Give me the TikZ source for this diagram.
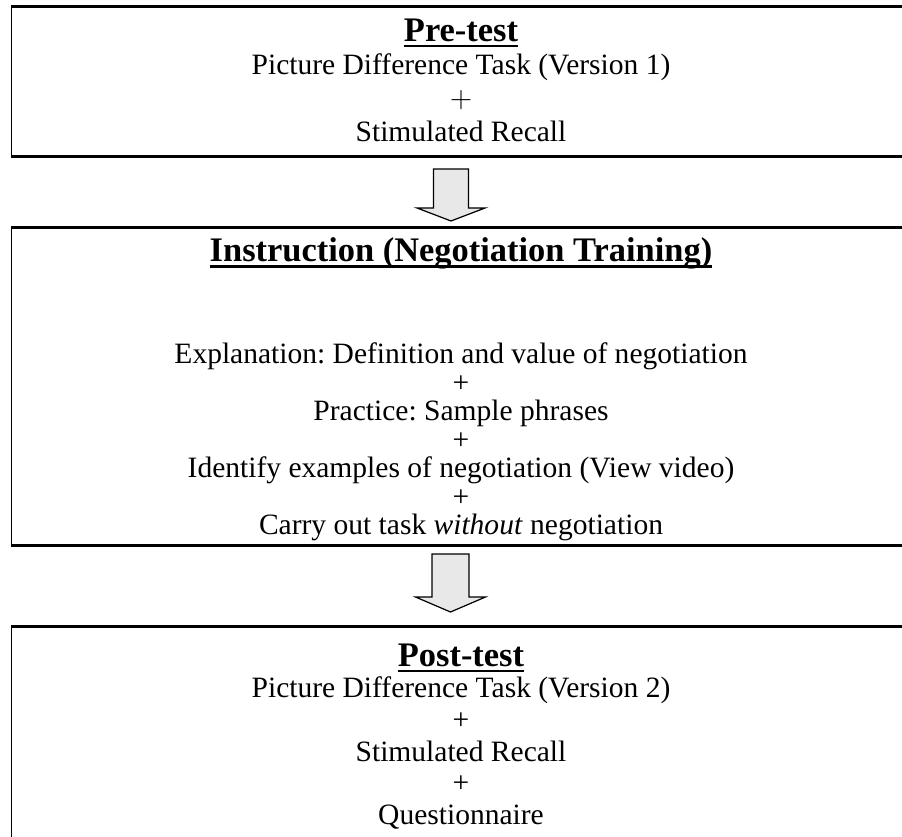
\documentclass[tikz,border=0pt]{standalone}
\usepackage{fontspec}
\setmainfont{Liberation Serif}
\frenchspacing

% underlined bold heading
\newcommand{\hdul}[1]{\setbox0\hbox{#1}\rlap{\rule[-2.6pt]{\wd0}{1.1pt}}\box0}
\newcommand{\heading}[1]{{\fontsize{14}{16}\selectfont\bfseries\hdul{#1}}}

\tikzset{
  boxtext/.style={align=center, inner sep=0pt, anchor=north},
  hline/.style={line width=1pt},
  vline/.style={line width=0.5pt},
  blockarrow/.style={draw=black, fill=black!9, line width=0.5pt, line join=miter}
}

\begin{document}
\begin{tikzpicture}[x=0.4065pt, y=-0.4065pt]
  \useasboundingbox (0,0) rectangle (902,837);

  % --- Boxes (open on the right) ---
  \draw[hline] (11.7,6.7) -- (902,6.7);
  \draw[hline] (11.7,156.7) -- (902,156.7);
  \draw[vline] (11.7,5.5) -- (11.7,157.9);

  \draw[hline] (11.7,227.5) -- (902,227.5);
  \draw[hline] (11.7,545.7) -- (902,545.7);
  \draw[vline] (11.7,226.3) -- (11.7,546.9);

  \draw[hline] (11.7,626.7) -- (902,626.7);
  \draw[vline] (11.7,625.5) -- (11.7,837);

  % --- Box texts ---
  \node[boxtext, font=\fontsize{12}{13.6}\selectfont] (pre) at (461,18)
    {\heading{Pre-test}\\
     Picture Difference Task (Version 1)\\
     $+$\\
     Stimulated Recall};

  \node[boxtext, font=\fontsize{12}{11.6}\selectfont] (instr) at (461,237)
    {\heading{Instruction (Negotiation Training)}\\[29.9pt]
     Explanation: Definition and value of negotiation\\
     +\\
     Practice: Sample phrases\\
     +\\
     Identify examples of negotiation (View video)\\
     +\\
     Carry out task \textit{without} negotiation};

  \node[boxtext, font=\fontsize{12}{12.9}\selectfont] (post) at (461,643)
    {\heading{Post-test}\\
     Picture Difference Task (Version 2)\\
     +\\
     Stimulated Recall\\
     +\\
     Questionnaire};

  % --- Arrows between boxes ---
  \coordinate (arrA) at (451,169);
  \draw[blockarrow] (arrA) ++(-17.5,0) -- ++(35,0) -- ++(0,39) -- ++(16.5,0)
    -- ++(-34,13) -- ++(-34,-13) -- ++(16.5,0) -- cycle;

  \coordinate (arrB) at (450.5,554);
  \draw[blockarrow] (arrB) ++(-18.5,0) -- ++(37,0) -- ++(0,43) -- ++(16.5,0)
    -- ++(-35,15) -- ++(-35,-15) -- ++(16.5,0) -- cycle;

\end{tikzpicture}
\end{document}
